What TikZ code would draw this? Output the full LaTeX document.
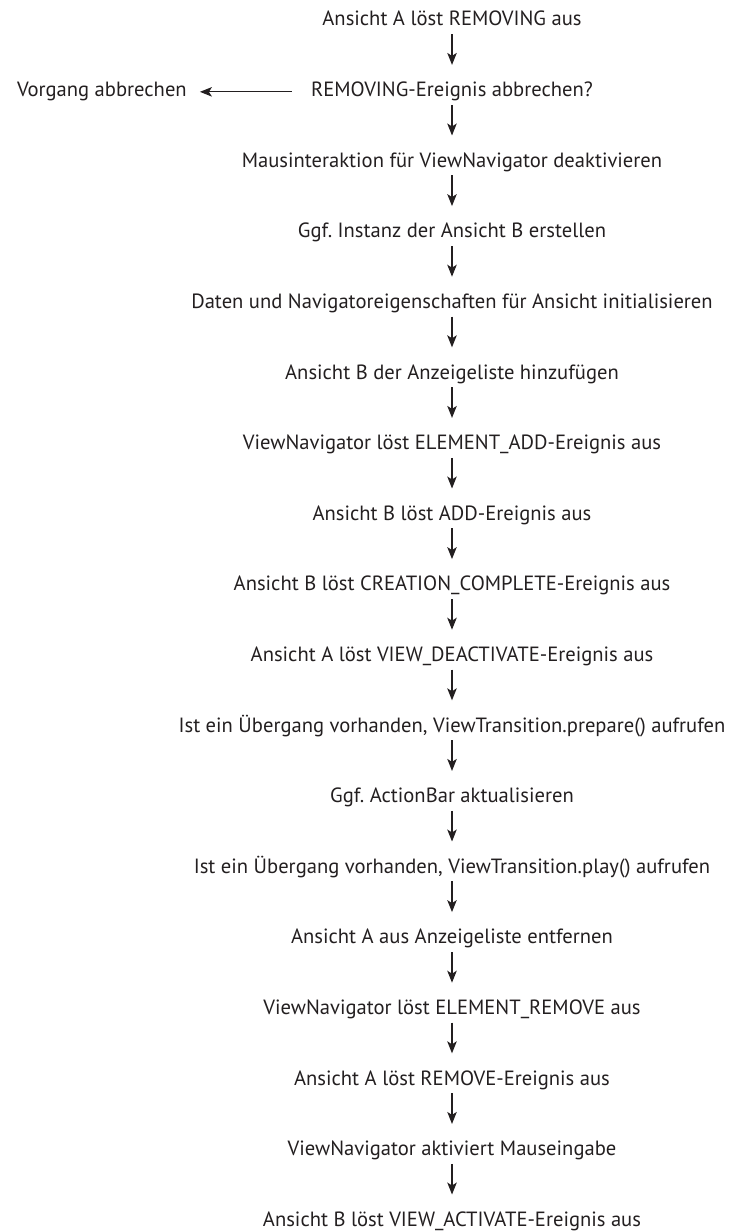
\documentclass[tikz,border=0pt]{standalone}
\usepackage{fontspec}
\setmainfont{PT Sans}
\usepackage{tikz,xcolor}
\usetikzlibrary{positioning, graphs, arrows.meta}
\definecolor{inkgray}{RGB}{35,31,32}

\begin{document}
\begin{tikzpicture}[x=1pt, y=1pt, node distance=44.7pt,
        >={Stealth[length=12pt,width=9.5pt,inset=3pt]},
        every node/.style={font=\fontsize{20.6}{24}\selectfont, text=inkgray,
            inner xsep=3pt, inner ysep=3pt, text height=14.5pt, text depth=5pt}]
            \useasboundingbox (0,0) rectangle (728,-1231);
            \node[anchor=base]              (step 1)  at (452,-26) {Ansicht A löst REMOVING aus};
            \node[below=of step 1]          (step 2)  {REMOVING-Ereignis abbrechen?};
            \node[below=of step 2]          (step 3)  {Mausinteraktion für ViewNavigator deaktivieren};
            \node[below=of step 3]          (step 4)  {Ggf.\ Instanz der Ansicht B erstellen};
            \node[below=of step 4]          (step 5)  {Daten und Navigatoreigenschaften für Ansicht initialisieren};
            \node[below=of step 5]          (step 6)  {Ansicht B der Anzeigeliste hinzufügen};
            \node[below=of step 6]          (step 7)  {ViewNavigator löst ELEMENT\_ADD-Ereignis aus};
            \node[below=of step 7]          (step 8)  {Ansicht B löst ADD-Ereignis aus};
            \node[below=of step 8]          (step 9)  {Ansicht B löst CREATION\_COMPLETE-Ereignis aus};
            \node[below=of step 9]          (step 10) {Ansicht A löst VIEW\_DEACTIVATE-Ereignis aus};
            \node[below=of step 10]         (step 11) {Ist ein Übergang vorhanden, ViewTransition.prepare() aufrufen};
            \node[below=of step 11]         (step 12) {Ggf.\ ActionBar aktualisieren};
            \node[below=of step 12]         (step 13) {Ist ein Übergang vorhanden, ViewTransition.play() aufrufen};
            \node[below=of step 13]         (step 14) {Ansicht A aus Anzeigeliste entfernen};
            \node[below=of step 14]         (step 15) {ViewNavigator löst ELEMENT\_REMOVE aus};
            \node[below=of step 15]         (step 16) {Ansicht A löst REMOVE-Ereignis aus};
            \node[below=of step 16]         (step 17) {ViewNavigator aktiviert Mauseingabe};
            \node[below=of step 17]         (step 18) {Ansicht B löst VIEW\_ACTIVATE-Ereignis aus};
            \node[left=118pt of step 2]     (cancel)  {Vorgang abbrechen};

            \graph[edges={draw=inkgray, line width=1.2pt, shorten >=14pt}]{
                (step 1) -> (step 2) -> (step 3) -> (step 4) -> (step 5) -> (step 6) -> (step 7) -> (step 8) -> (step 9)
                -> (step 10) -> (step 11) -> (step 12) -> (step 13) -> (step 14) -> (step 15) -> (step 16) -> (step 17) -> (step 18);
                (step 2) ->[shorten <=16pt, shorten >=10pt] (cancel);
            };
        \end{tikzpicture}
\end{document}
